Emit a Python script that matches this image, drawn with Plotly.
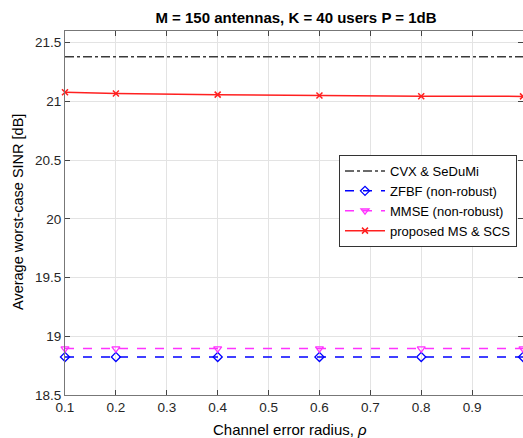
import plotly.graph_objects as go

rho = [0.1, 0.2, 0.4, 0.6, 0.8, 1.0]
cvx = [21.38, 21.38, 21.38, 21.38, 21.38, 21.38]
zfbf = [18.824, 18.824, 18.824, 18.824, 18.824, 18.824]
mmse = [18.895, 18.895, 18.895, 18.895, 18.895, 18.895]
proposed = [21.079, 21.067, 21.058, 21.050, 21.045, 21.043]

x_ticks = [0.1, 0.2, 0.3, 0.4, 0.5, 0.6, 0.7, 0.8, 0.9, 1.0]
x_tick_labels = ["0.1", "0.2", "0.3", "0.4", "0.5", "0.6", "0.7", "0.8", "0.9", "1"]
y_ticks = [18.5, 19, 19.5, 20, 20.5, 21, 21.5]
y_tick_labels = ["18.5", "19", "19.5", "20", "20.5", "21", "21.5"]

FONT = "Liberation Sans, Arial, Helvetica, sans-serif"

W, H = 523, 438
ML, MR, MT, MB = 65, 0, 31, 43
PW, PH = W - ML - MR, H - MT - MB

fig = go.Figure()
fig.add_trace(go.Scatter(x=rho, y=cvx, name="CVX & SeDuMi", mode="lines",
                         line=dict(color="#3a3a3a", width=1.5, dash="dashdot"),
                         cliponaxis=False))
fig.add_trace(go.Scatter(x=rho, y=zfbf, name="ZFBF (non-robust)", mode="lines+markers",
                         line=dict(color="#0000ff", width=1.5, dash="dash"),
                         marker=dict(symbol="diamond-open", size=7, color="#0000ff", line=dict(width=1.3)),
                         cliponaxis=False))
fig.add_trace(go.Scatter(x=rho, y=mmse, name="MMSE (non-robust)", mode="lines+markers",
                         line=dict(color="#ff33ff", width=1.5, dash="dash"),
                         marker=dict(symbol="triangle-down-open", size=7, color="#ff33ff", line=dict(width=1.3)),
                         cliponaxis=False))
fig.add_trace(go.Scatter(x=rho, y=proposed, name="proposed MS & SCS", mode="lines+markers",
                         line=dict(color="#ff2020", width=1.5),
                         marker=dict(symbol="x-thin-open", size=6, color="#ff2020", line=dict(width=1.5, color="#ff2020")),
                         cliponaxis=False))

fig.update_layout(
    width=W, height=H,
    margin=dict(l=ML, r=MR, t=MT, b=MB, autoexpand=False),
    paper_bgcolor="white", plot_bgcolor="white",
    font=dict(family=FONT, size=13, color="#262626"),
    title=dict(text="<b>M = 150 antennas, K = 40 users P = 1dB</b>", x=(296 - ML) / PW, xref="paper",
               xanchor="center", y=1 - 17.5 / H, yanchor="middle", font=dict(size=15, color="#000000")),
    showlegend=True,
    legend=dict(x=(339 - ML) / PW, y=1 - (155 - MT) / PH, xanchor="left", yanchor="top",
                bgcolor="white", bordercolor="#333333", borderwidth=1,
                font=dict(size=13, color="#000000"), tracegroupgap=0, itemwidth=40),
    annotations=[
        dict(text="Channel error radius, <i>ρ</i>", xref="paper", yref="paper",
             x=(290 - ML) / PW, y=-(429 - (H - MB)) / PH, xanchor="center", yanchor="middle",
             showarrow=False, font=dict(size=15, color="#000000")),
        dict(text="Average worst-case SINR [dB]", xref="paper", yref="paper",
             x=-(ML - 18) / PW, y=1 - (212 - MT) / PH, xanchor="center", yanchor="middle",
             textangle=-90, showarrow=False, font=dict(size=14.5, color="#000000")),
    ],
)
fig.update_xaxes(range=[0.1, 1.0], tickvals=x_ticks, ticktext=x_tick_labels,
                 automargin=False,
                 showgrid=True, gridcolor="#e3e3e3", gridwidth=1,
                 showline=True, linecolor="#777777", linewidth=1, mirror="ticks",
                 ticks="inside", ticklen=5, tickcolor="#444444",
                 tickfont=dict(size=13.5, color="#262626"), zeroline=False)
fig.update_yaxes(range=[18.5, 21.6], tickvals=y_ticks, ticktext=y_tick_labels,
                 automargin=False,
                 showgrid=True, gridcolor="#e3e3e3", gridwidth=1,
                 showline=True, linecolor="#777777", linewidth=1, mirror="ticks",
                 ticks="inside", ticklen=5, tickcolor="#444444",
                 tickfont=dict(size=13.5, color="#262626"), zeroline=False)

fig.write_html("out.html", config={"displayModeBar": False},
               post_script="document.body.style.margin='0';document.body.style.overflow='hidden';")
